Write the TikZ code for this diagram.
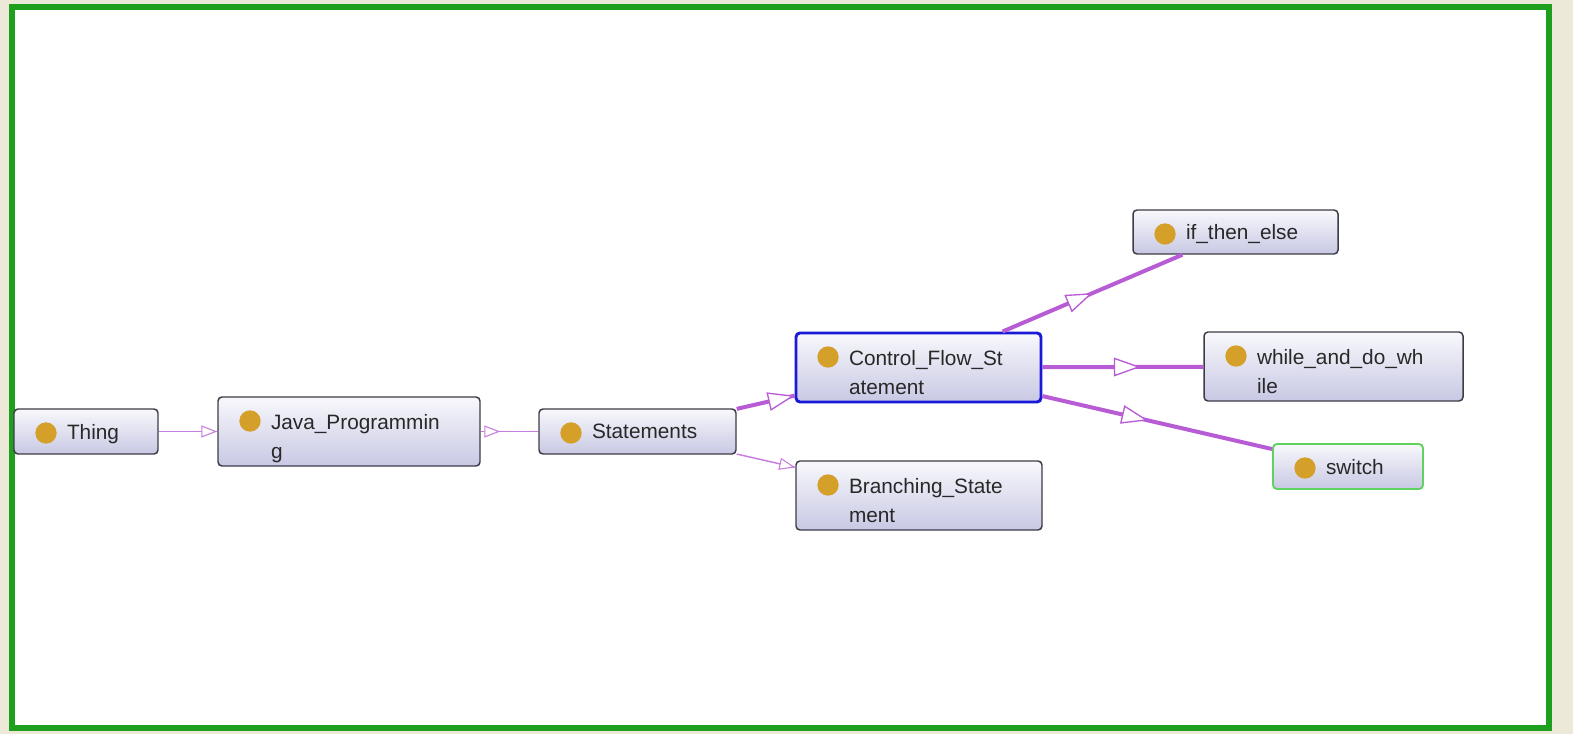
\documentclass[tikz,border=0pt]{standalone}
\usepackage{fontspec}
\setmainfont{Liberation Sans}
\usepackage{xcolor}
\definecolor{Frame}{RGB}{236,233,216}
\definecolor{Green}{RGB}{30,160,30}
\definecolor{Gold}{RGB}{212,160,42}
\definecolor{BoxLine}{RGB}{60,60,70}
\definecolor{BoxTop}{RGB}{248,248,252}
\definecolor{BoxBottom}{RGB}{200,200,228}
\definecolor{Blue}{RGB}{25,25,215}
\definecolor{Lime}{RGB}{95,210,95}
\definecolor{Purple}{RGB}{184,92,214}
\definecolor{Ink}{RGB}{40,40,40}
\usetikzlibrary{arrows.meta,decorations.markings}

\begin{document}
\begin{tikzpicture}[x=0.75pt, y=-0.75pt,
		classbox/.style={rectangle, rounded corners=3pt, draw=BoxLine, line width=1.1pt,
			top color=BoxTop, bottom color=BoxBottom, align=left, text=Ink, text depth=-3pt,
			inner xsep=39.75pt, inner ysep=0pt, font=\fontsize{15.6}{21.75}\selectfont,
			path picture={\fill[Gold] ([shift={(32,24)}]path picture bounding box.north west) circle (8pt);}},
		twolines/.style={text depth=15pt},
		thinedge/.style={color=Purple!80!white, line width=1.1pt, postaction={decorate},
			decoration={markings, mark=at position #1 with {\arrow{Triangle[fill=white, length=12pt, width=9pt, line width=0.8pt]}}}},
		thickedge/.style={color=Purple, line width=3pt, postaction={decorate},
			decoration={markings, mark=at position #1 with {\arrow{Triangle[fill=white, length=20pt, width=14pt, line width=1pt]}}}}]
		
		% Frame
		\fill [Frame] (0,0) rectangle (1573,734);
		\filldraw [fill=white, draw=Green, line width=4.5pt] (12,7) rectangle (1549,728);
		
		% Classes
		\node[classbox, text width=28.5pt, minimum height=33.75pt] (thing) at (86,431.5) {Thing};
		\node[classbox, twolines, text width=117pt, minimum height=51.75pt] (java) at (349,431.5) {Java\_Programmin\\g};
		\node[classbox, text width=68.25pt, minimum height=33.75pt] (statements) at (637.5,431.5) {Statements};
		\node[classbox, twolines, text width=104.25pt, minimum height=51.75pt, draw=Blue, line width=2.2pt] (control) at (918.5,367.5) {Control\_Flow\_St\\atement};
		\node[classbox, twolines, text width=105pt, minimum height=51.75pt] (branching) at (919,495.5) {Branching\_State\\ment};
		\node[classbox, text width=74.25pt, minimum height=33pt] (ifelse) at (1235.5,232) {if\_then\_else};
		\node[classbox, twolines, text width=114.75pt, minimum height=51.75pt] (whiledo) at (1333.5,366.5) {while\_and\_do\_wh\\ile};
		\node[classbox, text width=33pt, minimum height=33.75pt, draw=Lime, line width=1.4pt] (switchnode) at (1348,466.5) {switch};
		
		% Subclass links
		\draw[thinedge=1] (thing) -- (java);
		\draw[thinedge=0.34] (java) -- (statements);
		\draw[thickedge=1] (statements) -- (control);
		\draw[thinedge=1] (statements) -- (branching);
		\draw[thickedge=0.5] (control) -- (ifelse);
		\draw[thickedge=0.61] (control) -- (whiledo);
		\draw[thickedge=0.46] (control) -- (switchnode);
		
	\end{tikzpicture}
\end{document}
